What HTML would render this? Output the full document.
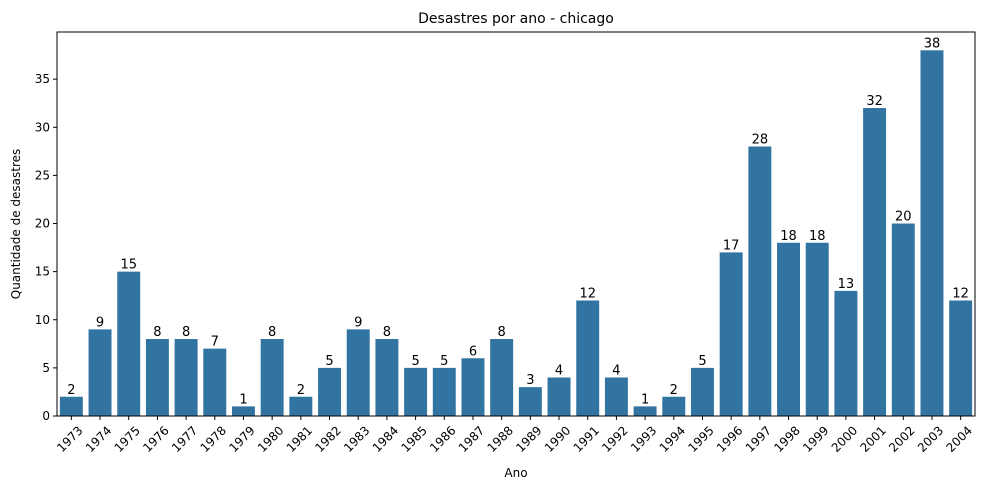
<!DOCTYPE html>
<html><head><meta charset="utf-8"><style>
body{margin:0;background:#fff;font-family:"Liberation Sans","DejaVu Sans",sans-serif;}
</style></head><body>
<svg id="chart" width="987" height="490" xmlns="http://www.w3.org/2000/svg" font-family="DejaVu Sans, Liberation Sans, sans-serif">
<text x="516" y="23" font-size="14" text-anchor="middle">Desastres por ano - chicago</text>
<text x="516" y="477" font-size="12" text-anchor="middle">Ano</text>
<text transform="translate(20,224) rotate(-90)" font-size="12" text-anchor="middle">Quantidade de desastres</text>
<g id="bars"></g><g id="axes"></g>
</svg>
<script>
const categories=[1973,1974,1975,1976,1977,1978,1979,1980,1981,1982,1983,1984,1985,1986,1987,1988,1989,1990,1991,1992,1993,1994,1995,1996,1997,1998,1999,2000,2001,2002,2003,2004];
const values=[2,9,15,8,8,7,1,8,2,5,9,8,5,5,6,8,3,4,12,4,1,2,5,17,28,18,18,13,32,20,38,12];
const yTicks=[0,5,10,15,20,25,30,35];
const L=57,R=975,T=32,B=416;
const yMax=39.9;
function y(v){return B-(v/yMax)*(B-T);}
const step=(R-L)/categories.length;
function x(i){return L+step*i;}
const NS="http://www.w3.org/2000/svg";
const bars=document.getElementById('bars'),axes=document.getElementById('axes');
function mk(tag,attrs,parent){const e=document.createElementNS(NS,tag);for(const k in attrs)e.setAttribute(k,attrs[k]);parent.appendChild(e);return e;}
values.forEach((v,i)=>{
  const r=mk('rect',{x:x(i)+step*0.1,y:y(v),width:step*0.8,height:B-y(v),fill:'#3274a1'},bars);
  
  
  const t=mk('text',{x:x(i)+step/2,y:y(v)-3,'font-size':13,'text-anchor':'middle'},bars);
  t.textContent=v;
  
  
  mk('line',{x1:x(i)+step/2,x2:x(i)+step/2,y1:B,y2:B+4,stroke:'#000'},axes);
  const xl=mk('text',{transform:`translate(${x(i)+step/2+6},${B+9}) rotate(-45)`,'font-size':12,'text-anchor':'end','dominant-baseline':'hanging'},axes);
  xl.textContent=categories[i];
  
  
});
yTicks.forEach(v=>{
  mk('line',{x1:L-4,x2:L,y1:y(v),y2:y(v),stroke:'#000'},axes);
  const t=mk('text',{x:L-7,y:y(v)+4,'font-size':12,'text-anchor':'end'},axes);
  t.textContent=v;
  
  
});
const f=mk('rect',{x:L,y:T,width:R-L,height:B-T,fill:'none',stroke:'#000','stroke-width':1},axes);


</script>
</body></html>
